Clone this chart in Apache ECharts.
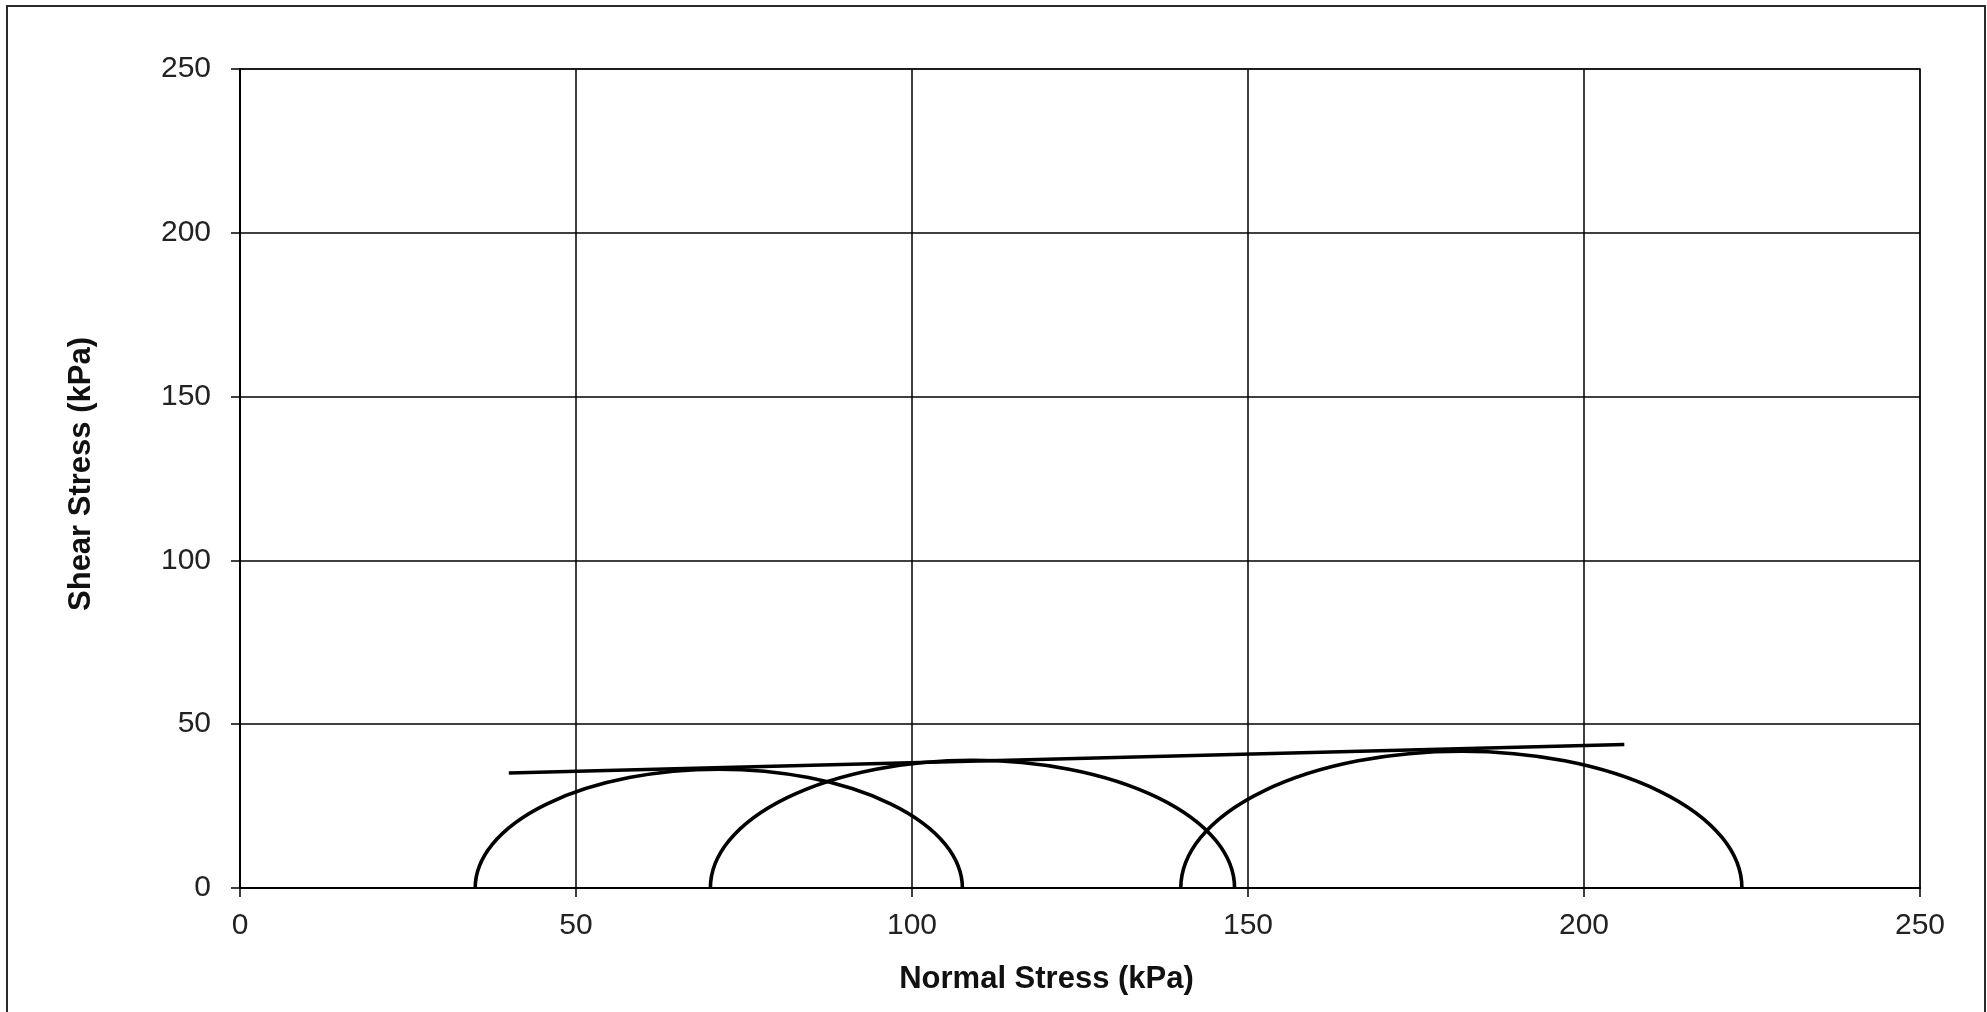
<!DOCTYPE html>
<html>
<head>
<meta charset="utf-8">
<title>Mohr Circles</title>
<script src="https://cdn.jsdelivr.net/npm/echarts@6/dist/echarts.min.js"></script>
<style>
  html, body { margin: 0; padding: 0; background: #fff; }
  #chart { width: 1987px; height: 1012px; }
</style>
</head>
<body>
<div id="chart"></div>
<script>
// Principal stresses of each test (kPa): minor (sigma3) and major (sigma1)
const sigma3 = [35, 70, 140];
const sigma1 = [107.5, 148, 223.5];

// Failure envelope end points (normal stress, shear stress) in kPa
const envelopeX = [40, 206];
const envelopeY = [35.1, 43.8];

// Axis ranges and tick spacing
const xRange = [0, 250];
const yRange = [0, 250];
const tickStep = 50;

const FONT = '"Liberation Sans", Arial, sans-serif';

const chart = echarts.init(document.getElementById('chart'), null, { renderer: 'canvas' });

const circleData = sigma3.map((s, i) => [s, sigma1[i]]);
const envelopeData = envelopeX.map((x, i) => [x, envelopeY[i]]);

const axisCommon = {
  type: 'value',
  interval: tickStep,
  axisLine: { show: true, onZero: false, lineStyle: { color: '#000', width: 2 } },
  axisTick: { show: true, inside: false, length: 9, lineStyle: { color: '#000', width: 1.5 } },
  splitLine: { show: true, lineStyle: { color: '#000', width: 1.5 } },
  axisLabel: { color: '#222', fontSize: 30, fontFamily: FONT },
  nameLocation: 'middle'
};

chart.setOption({
  backgroundColor: '#fff',
  animation: false,
  graphic: [{
    type: 'rect',
    shape: { x: 7, y: 6, width: 1978, height: 1030 },
    style: { fill: 'none', stroke: '#2a2a2a', lineWidth: 2 },
    silent: true
  }],
  grid: {
    left: 240, right: 67, top: 69, bottom: 124,
    show: true, borderColor: '#7a7a7a', borderWidth: 2, backgroundColor: 'transparent'
  },
  xAxis: Object.assign({}, axisCommon, {
    min: xRange[0], max: xRange[1],
    name: 'Normal Stress (kPa)',
    nameGap: 76,
    nameTextStyle: {
      color: '#111', fontSize: 31, fontWeight: 'bold', fontFamily: FONT,
      padding: [0, 67, 0, 0]
    },
    axisLabel: Object.assign({}, axisCommon.axisLabel, { margin: 23 })
  }),
  yAxis: Object.assign({}, axisCommon, {
    min: yRange[0], max: yRange[1],
    name: 'Shear Stress (kPa)',
    nameRotate: 90,
    nameGap: 143,
    nameTextStyle: {
      color: '#111', fontSize: 31, fontWeight: 'bold', fontFamily: FONT,
      padding: [0, 0, 0, 9]
    },
    axisLabel: Object.assign({}, axisCommon.axisLabel, { margin: 29 })
  }),
  series: [
    {
      // Mohr semicircles: centre at (sigma1+sigma3)/2, radius (sigma1-sigma3)/2
      type: 'custom',
      coordinateSystem: 'cartesian2d',
      clip: false,
      encode: { x: [0, 1], y: -1 },
      data: circleData,
      renderItem: function (params, api) {
        const s3 = api.value(0);
        const s1 = api.value(1);
        const r = (s1 - s3) / 2;
        const pLeft = api.coord([s3, 0]);
        const pRight = api.coord([s1, 0]);
        const sz = api.size([r, r]);
        const rx = sz[0], ry = sz[1];
        return {
          type: 'path',
          shape: {
            pathData: 'M ' + pLeft[0] + ' ' + pLeft[1] +
              ' A ' + rx + ' ' + ry + ' 0 0 1 ' + pRight[0] + ' ' + pRight[1]
          },
          style: { fill: 'none', stroke: '#000', lineWidth: 3.6 }
        };
      }
    },
    {
      // Strength envelope
      type: 'line',
      data: envelopeData,
      showSymbol: false,
      symbol: 'none',
      lineStyle: { color: '#000', width: 3.6 }
    }
  ]
});
</script>
</body>
</html>
